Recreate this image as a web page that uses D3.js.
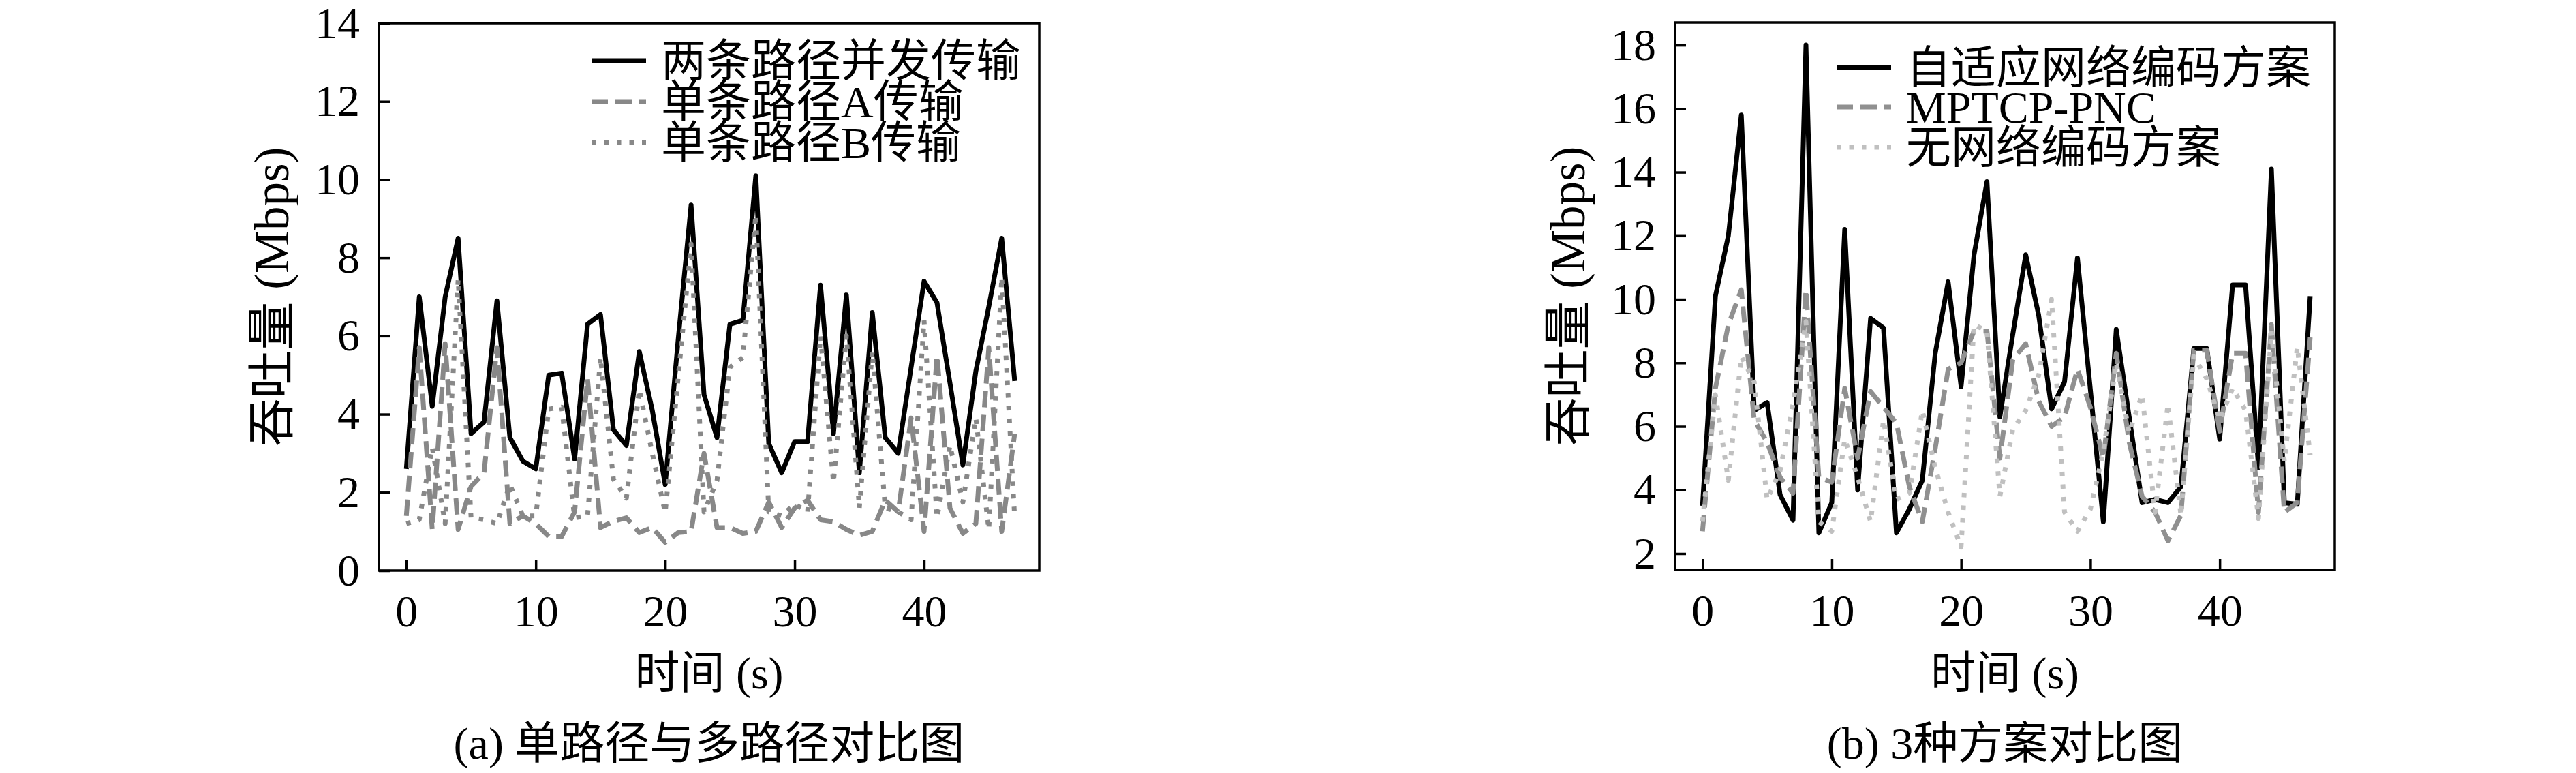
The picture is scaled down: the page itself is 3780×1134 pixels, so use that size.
<!DOCTYPE html>
<html>
<head>
<meta charset="utf-8">
<script src="https://cdn.jsdelivr.net/npm/d3@7/dist/d3.min.js"></script>
<style>
  body { margin: 0; background: #ffffff; }
  svg text { font-family: "Liberation Serif", "Noto Sans CJK SC", serif; fill: #000; }
</style>
</head>
<body>
<svg id="chart" width="3780" height="1134"></svg>
<script>
// 时间轴 (s)
const timeSec = [0,1,2,3,4,5,6,7,8,9,10,11,12,13,14,15,16,17,18,19,20,21,22,23,
  24,25,26,27,28,29,30,31,32,33,34,35,36,37,38,39,40,41,42,43,44,45,46,47];

// (a) 单路径与多路径
const dualPath = [2.6,7.0,4.2,7.0,8.5,3.5,3.8,6.9,3.4,2.8, 2.6,5.0,5.05,2.85,6.3,6.55,3.6,3.2,5.6,4.1,
  2.2,5.9,9.35,4.5,3.4,6.3,6.4,10.1,3.25,2.5, 3.3,3.3,7.3,3.5,7.05,2.5,6.6,3.4,3.0,5.2,
  7.4,6.85,4.8,2.7,5.1,6.75,8.5,4.85];
const pathA = [1.4,5.7,1.05,5.8,1.05,2.15,2.5,5.7,1.2,1.4, 1.2,0.87,0.87,1.5,4.9,1.1,1.26,1.35,0.97,1.1,
  0.72,0.97,1.0,3.0,1.1,1.1,0.95,1.0,1.75,1.1, 1.6,1.8,1.3,1.25,1.05,0.9,1.0,1.8,1.5,3.9,
  1.0,5.5,1.6,0.95,1.2,5.7,1.0,3.5];
const pathB = [1.2,1.3,3.15,1.2,7.45,1.35,1.3,1.2,2.2,1.4, 1.4,4.13,4.18,1.35,1.4,5.45,2.34,1.85,4.63,3.0,
  1.48,4.93,8.35,1.5,2.3,5.2,5.45,9.1,1.5,1.4, 1.7,1.5,6.0,2.25,6.0,1.6,5.6,1.6,1.5,1.3,
  6.4,1.35,3.2,1.75,3.9,1.05,7.5,1.35];

// (b) 3种方案
const adaptiveNC = [3.5,10.1,12.0,15.8,6.5,6.75,3.85,3.05,18.0,2.65, 3.6,12.2,4.0,9.4,9.1,2.65,3.4,4.3,8.3,10.55,
  7.25,11.4,13.7,6.3,8.9,11.4,9.5,6.55,7.4,11.3, 7.15,3.0,9.05,6.3,3.6,3.7,3.6,4.1,8.45,8.45,
  5.6,10.45,10.45,4.7,14.1,3.6,3.55,10.1];
const mptcpPNC = [2.7,7.2,9.2,10.3,6.2,5.5,4.4,3.9,10.3,4.4, 4.25,7.2,5.0,7.1,6.6,6.1,4.1,3.0,5.3,7.8,
  8.0,9.0,9.0,5.0,8.1,8.6,6.8,6.0,6.3,7.8, 6.6,5.0,8.3,5.5,3.8,3.3,2.4,3.2,8.4,8.4,
  5.85,8.3,8.3,3.3,9.2,3.3,3.6,8.8];
const noNC = [3.0,7.0,4.3,8.2,7.4,3.7,4.6,6.7,9.3,3.0, 2.7,5.6,4.4,3.0,6.2,3.7,3.9,6.5,4.7,3.3,
  2.2,9.2,9.0,3.8,5.9,6.5,7.6,10.0,3.3,2.7, 3.4,5.2,8.0,5.8,7.0,3.3,6.7,3.2,8.2,7.5,
  6.2,7.2,6.5,3.1,9.0,4.9,8.5,5.1];

// 刻度
const xTicks = [0,10,20,30,40];
const leftYTicks = [0,2,4,6,8,10,12,14];
const rightYTicks = [2,4,6,8,10,12,14,16,18];

const legendA = ['两条路径并发传输','单条路径A传输','单条路径B传输'];
const legendB = ['自适应网络编码方案','MPTCP-PNC','无网络编码方案'];

const svg = d3.select('#chart');
svg.append('rect').attr('width', 3780).attr('height', 1134).attr('fill', '#fff');

const fontSize = 66;
const lineW = 7;

function drawPanel(p) {
  const g = svg.append('g');
  const x = d3.scaleLinear().domain([-2.12, 48.9]).range([p.left, p.right]);
  const y = d3.scaleLinear().domain(p.yDomain).range([p.bottom, p.top]);

  // 曲线 (先实线, 再虚线, 最后点线)
  const line = d3.line().x((d, i) => x(timeSec[i])).y(d => y(d));
  p.series.forEach(s => {
    g.append('path')
      .datum(s.values)
      .attr('d', line)
      .attr('fill', 'none')
      .attr('stroke', s.color)
      .attr('stroke-width', lineW)
      .attr('stroke-linejoin', 'round')
      .attr('stroke-dasharray', s.dash);
  });

  // 坐标轴 (刻度朝内)
  const xAxis = d3.axisBottom(x).tickValues(xTicks).tickSizeInner(-16).tickSizeOuter(0).tickPadding(35);
  const yAxis = d3.axisLeft(y).tickValues(p.yTicks).tickSizeInner(-16).tickSizeOuter(0).tickPadding(28);
  [[xAxis, `translate(0,${p.bottom})`], [yAxis, `translate(${p.left},0)`]].forEach(([ax, tr]) => {
    g.append('g').attr('transform', tr).call(ax)
      .call(a => {
        a.select('.domain').remove();
        a.selectAll('.tick line').attr('stroke', '#000').attr('stroke-width', 3.5);
        a.selectAll('.tick text').attr('font-size', fontSize).attr('fill', '#000')
          .style('font-family', '"Liberation Serif", serif');
      });
  });

  // 边框
  g.append('rect')
    .attr('x', p.left).attr('y', p.top)
    .attr('width', p.right - p.left).attr('height', p.bottom - p.top)
    .attr('fill', 'none').attr('stroke', '#000').attr('stroke-width', 3.5);

  // 图例
  p.series.forEach((s, i) => {
    const ly = p.legendRows[i];
    g.append('line')
      .attr('x1', p.legendX).attr('x2', p.legendX + 80)
      .attr('y1', ly).attr('y2', ly)
      .attr('stroke', s.color).attr('stroke-width', lineW)
      .attr('stroke-dasharray', s.dash);
    g.append('text')
      .attr('x', p.legendX + 102).attr('y', ly)
      .attr('dy', '0.35em')
      .attr('font-size', fontSize)
      .text(p.legend[i]);
  });

  const cx = (p.left + p.right) / 2;
  g.append('text')
    .attr('transform', `translate(${p.left - 158},${(p.top + p.bottom) / 2}) rotate(-90)`)
    .attr('text-anchor', 'middle').attr('dy', '0.35em')
    .attr('font-size', 71)
    .text('吞吐量 (Mbps)');
  g.append('text')
    .attr('x', cx).attr('y', 1010).attr('text-anchor', 'middle')
    .attr('font-size', fontSize)
    .text('时间 (s)');
  g.append('text')
    .attr('x', cx).attr('y', 1113).attr('text-anchor', 'middle')
    .attr('font-size', fontSize)
    .text(p.caption);
}

drawPanel({
  left: 556, right: 1525, top: 34, bottom: 837,
  yDomain: [0, 14], yTicks: leftYTicks,
  series: [
    { values: dualPath, color: '#000', dash: null },
    { values: pathA, color: '#888888', dash: '24 11' },
    { values: pathB, color: '#888888', dash: '6.5 12' }
  ],
  legend: legendA, legendX: 868, legendRows: [89, 149, 209],
  caption: '(a) 单路径与多路径对比图'
});

drawPanel({
  left: 2458, right: 3426, top: 33, bottom: 836,
  yDomain: [1.485, 18.71], yTicks: rightYTicks,
  series: [
    { values: adaptiveNC, color: '#000', dash: null },
    { values: mptcpPNC, color: '#909090', dash: '24 11' },
    { values: noNC, color: '#c0c0c0', dash: '6.5 12' }
  ],
  legend: legendB, legendX: 2695, legendRows: [99, 157, 216],
  caption: '(b) 3种方案对比图'
});
</script>
</body>
</html>
